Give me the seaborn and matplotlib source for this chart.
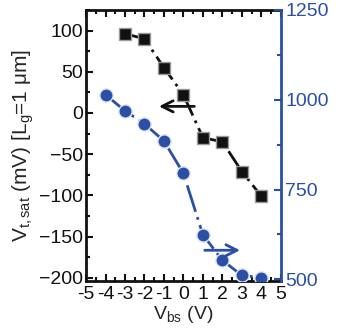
import matplotlib
matplotlib.use("Agg")
import matplotlib.pyplot as plt
import seaborn as sns
import numpy as np
from matplotlib.ticker import MultipleLocator

vbs_sq = [-3, -2, -1, 0, 1, 2, 3, 4]
vt_sat = [96, 90, 55, 22, -30, -35, -71, -101]
vbs_ci = [-4, -3, -2, -1, 0, 1, 2, 3, 4]
right_vals = [1014, 969, 933, 885, 795, 624, 553, 511, 505]
xticks = [-5, -4, -3, -2, -1, 0, 1, 2, 3, 4, 5]
xticklabels = ["-5", "-4", "-3", "-2", "-1", "0", "1", "2", "3", "4", "5"]

sns.set_theme(style="ticks")
plt.rcParams['font.family'] = ['Liberation Sans', 'DejaVu Sans']
plt.rcParams['mathtext.fontset'] = 'custom'
plt.rcParams['mathtext.rm'] = 'Liberation Sans'
plt.rcParams['mathtext.it'] = 'Liberation Sans'
plt.rcParams['mathtext.default'] = 'regular'

blue = '#2c4fa6'
fig = plt.figure(figsize=(3.4, 3.3), dpi=100)
ax = fig.add_axes([0.253, 0.148, 0.573, 0.822])
ax2 = ax.twinx()

dash = (0, (10, 2, 1, 2))
sns.lineplot(x=vbs_sq, y=vt_sat, ax=ax, color='#111111', marker='s', markersize=8.5,
             markeredgecolor='#9a9a9a', markeredgewidth=1, linewidth=2,
             linestyle=dash)
sns.lineplot(x=vbs_ci, y=right_vals, ax=ax2, color=blue, marker='o', markersize=9.5,
             markeredgecolor='#dde3f0', markeredgewidth=1, linewidth=2,
             linestyle=dash)

ax.set_xlim(-5, 5)
ax.set_ylim(-204, 125)
ax2.set_ylim(495, 1250)

ax.set_xticks(xticks)
ax.set_xticklabels(xticklabels)
ax.xaxis.set_minor_locator(MultipleLocator(0.5))
ax.set_yticks([-200, -150, -100, -50, 0, 50, 100])
ax.yaxis.set_minor_locator(MultipleLocator(25))
ax2.set_yticks([500, 750, 1000, 1250])
ax2.yaxis.set_minor_locator(MultipleLocator(125))

ax.tick_params(axis='both', which='both', direction='in', labelsize=14, top=True,
               colors='#111111', pad=2)
ax.tick_params(axis='x', pad=3.5)
ax.tick_params(which='major', length=5, width=1.5)
ax.tick_params(which='minor', length=3, width=1.5)
ax.tick_params(axis='x', which='both', top=True)
ax2.tick_params(axis='y', which='both', direction='in', labelsize=14, colors=blue, pad=3)
ax2.tick_params(which='major', length=5, width=1.5)
ax2.tick_params(which='minor', length=3, width=1.5)

for s in ['left', 'bottom', 'top']:
    ax.spines[s].set_linewidth(2)
    ax.spines[s].set_color('#111111')
ax.spines['right'].set_visible(False)
for s in ['left', 'bottom', 'top']:
    ax2.spines[s].set_visible(False)
ax2.spines['right'].set_color(blue)
ax2.spines['right'].set_linewidth(2)

ax.set_xlabel("V$_{bs}$ (V)", fontsize=14, labelpad=1)
ax.set_ylabel("V$_{t,sat}$ (mV) [L$_g$=1 μm]", fontsize=15, labelpad=2)
ax2.set_ylabel("")

ax.annotate("", xy=(-1.4, 8), xytext=(0.7, 8),
            arrowprops=dict(arrowstyle='->', color='#111111', lw=2, mutation_scale=20))
ax2.annotate("", xy=(3.05, 581), xytext=(0.95, 581),
             arrowprops=dict(arrowstyle='->', color=blue, lw=2, mutation_scale=20))

fig.savefig("out.png", dpi=100)
